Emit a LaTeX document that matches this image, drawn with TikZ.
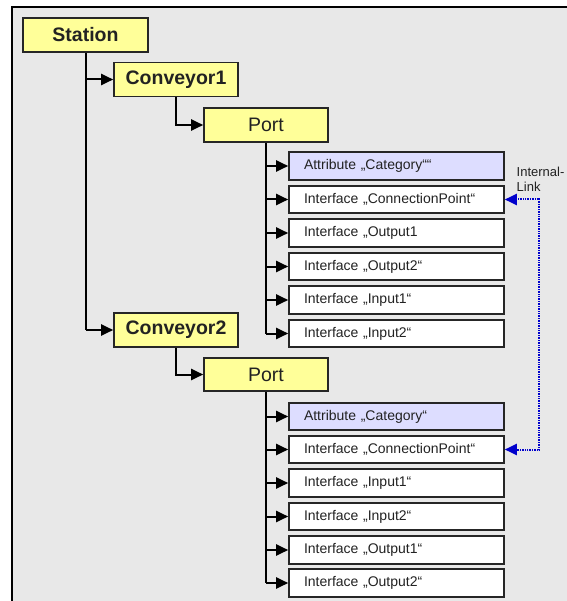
\documentclass[tikz,border=0pt]{standalone}
\usepackage{fontspec}
\setmainfont{Liberation Sans}
\usetikzlibrary{arrows.meta}
\definecolor{bggray}{HTML}{E8E8E8}
\definecolor{boxyellow}{HTML}{FFFF99}
\definecolor{attrblue}{HTML}{DDDDFF}
\definecolor{linkblue}{HTML}{0000CC}
\definecolor{txtdark}{HTML}{222222}
\begin{document}
\begin{tikzpicture}[x=1pt,y=-1pt,
  ybox/.style={draw=black!85, line width=1.6pt, fill=boxyellow, minimum height=34pt, minimum width=124pt, inner sep=0pt, text=txtdark},
  bigbold/.style={font=\fontsize{19.5}{22}\selectfont\bfseries},
  bigreg/.style={font=\fontsize{19.5}{22}\selectfont},
  childbox/.style={draw=black!85, line width=1.6pt, fill=white, minimum height=27.5pt, text width=185pt, inner xsep=15pt, inner ysep=0pt, align=left, text=txtdark, font=\fontsize{14}{16}\selectfont},
  attrbox/.style={childbox, fill=attrblue},
  conn/.style={line width=2pt, -{Triangle[length=12pt,width=11pt]}},
  trunkline/.style={line width=2.8pt},
  linkline/.style={linkblue, line width=2pt, dash pattern=on 1pt off 0.7pt, {Triangle[length=12pt,width=11pt]}-{Triangle[length=12pt,width=11pt]}}
]
\useasboundingbox (0,0) rectangle (566,601);
% background frame
\fill[bggray] (12,7) rectangle (572,607);
\draw[line width=1.6pt] (12,607) -- (12,7) -- (572,7);

% tree nodes
\node[ybox, bigbold, minimum width=125pt] (st) at (85.5,35) {Station};
\node[ybox, bigbold] (c1) at (176,79.5) {Conveyor1};
\node[ybox, bigreg] (p1) at (266,125) {Port};
\node[ybox, bigbold] (c2) at (176,330) {Conveyor2};
\node[ybox, bigreg, minimum height=33pt] (p2) at (266,374.5) {Port};

% children of first port
\node[attrbox]  (a1) at (396.5,166)   {Attribute „Category““};
\node[childbox] (i1) at (396.5,199.5) {Interface „ConnectionPoint“};
\node[childbox] (i2) at (396.5,233)   {Interface „Output1};
\node[childbox] (i3) at (396.5,266.5) {Interface „Output2“};
\node[childbox] (i4) at (396.5,300)   {Interface „Input1“};
\node[childbox] (i5) at (396.5,333.5) {Interface „Input2“};

% children of second port
\node[attrbox]  (b1) at (396.5,416.5) {Attribute „Category“};
\node[childbox] (j1) at (396.5,449.5) {Interface „ConnectionPoint“};
\node[childbox] (j2) at (396.5,483)   {Interface „Input1“};
\node[childbox] (j3) at (396.5,516.5) {Interface „Input2“};
\node[childbox] (j4) at (396.5,550)   {Interface „Output1“};
\node[childbox] (j5) at (396.5,583)   {Interface „Output2“};

% connectors of the tree
\draw[line width=2pt] (st.south) -- (st.south |- c2.west);
\draw[conn] (st.south |- c1.west) -- (c1.west);
\draw[conn] (st.south |- c2.west) -- (c2.west);
\draw[conn] (c1.south) |- (p1.west);
\draw[conn] (c2.south) |- (p2.west);

\draw[trunkline] (p1.south) -- (p1.south |- i5.west);
\foreach \n in {a1,i1,i2,i3,i4,i5}
  \draw[conn] (p1.south |- \n.west) -- (\n.west);
\draw[trunkline] (p2.south) -- (p2.south |- j5.west);
\foreach \n in {b1,j1,j2,j3,j4,j5}
  \draw[conn] (p2.south |- \n.west) -- (\n.west);

% internal link
\coordinate (lk1) at (539,199.5);
\coordinate (lk2) at (539,449.5);
\draw[linkline] (i1.east) -- (lk1) -- (lk2) -- (j1.east);
\node[anchor=north west, align=left, inner sep=0pt, text=txtdark, font=\fontsize{13}{15}\selectfont] (lnk) at (516.5,166.5) {Internal-\\Link};
\end{tikzpicture}
\end{document}
